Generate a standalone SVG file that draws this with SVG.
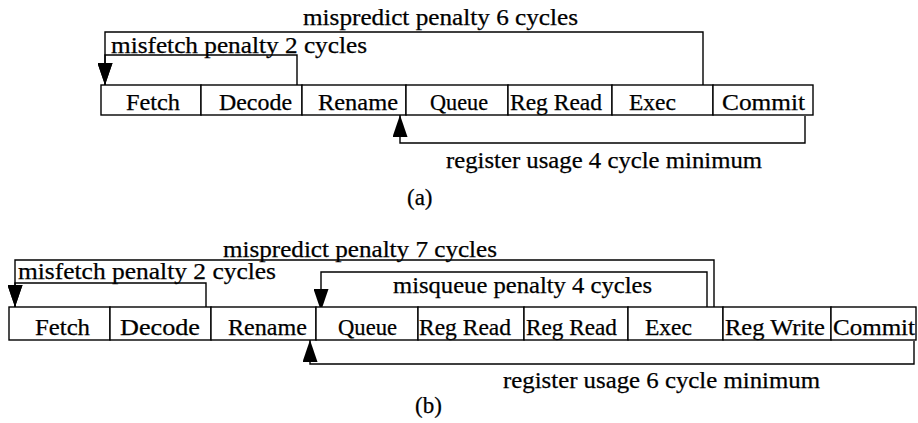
<svg xmlns="http://www.w3.org/2000/svg" width="918" height="423" viewBox="0 0 918 423">
<style>
text { font-family: "Liberation Serif", "Times New Roman", serif; font-size: 23px; fill: #000; stroke: #000; stroke-width: 0.25; }
.box { fill: #fff; stroke: #000; stroke-width: 1.4; }
.conn { fill: none; stroke: #000; stroke-width: 1.4; }
</style>
<defs>
<marker id="arr" viewBox="0 0 22 15" refX="22" refY="7.5" markerWidth="22" markerHeight="15" markerUnits="userSpaceOnUse" orient="auto">
<path d="M0,0 L22,7.5 L0,15 z" fill="#000"/>
</marker>
</defs>
<rect width="918" height="423" fill="#fff"/>

<g id="connectors">
<path class="conn" d="M703,85 V32 H105 V85" marker-end="url(#arr)"/>
<path class="conn" d="M297,85 V55 H105 V85" marker-end="url(#arr)"/>
<path class="conn" d="M805,116 V143 H400 V115" marker-end="url(#arr)"/>
<path class="conn" d="M714,308 V260 H15 V307" marker-end="url(#arr)"/>
<path class="conn" d="M206,307 V283 H15 V307" marker-end="url(#arr)"/>
<path class="conn" d="M707,308 V272 H321 V311" marker-end="url(#arr)"/>
<path class="conn" d="M914,341 V364 H310 V340" marker-end="url(#arr)"/>
</g>

<g id="labels">
<text x="303" y="25" textLength="275" lengthAdjust="spacingAndGlyphs">mispredict penalty 6 cycles</text>
<text x="111" y="53" textLength="256" lengthAdjust="spacingAndGlyphs">misfetch penalty 2 cycles</text>
<text x="446" y="168" textLength="316" lengthAdjust="spacingAndGlyphs">register usage 4 cycle minimum</text>
<text x="407" y="205">(a)</text>
<text x="223" y="257" textLength="274" lengthAdjust="spacingAndGlyphs">mispredict penalty 7 cycles</text>
<text x="18" y="279" textLength="258" lengthAdjust="spacingAndGlyphs">misfetch penalty 2 cycles</text>
<text x="393" y="293" textLength="259" lengthAdjust="spacingAndGlyphs">misqueue penalty 4 cycles</text>
<text x="503" y="388" textLength="317" lengthAdjust="spacingAndGlyphs">register usage 6 cycle minimum</text>
<text x="415" y="413">(b)</text>
</g>

<g id="a-fetch"><rect class="box" x="101" y="85" width="100" height="30"/><text x="126" y="110" textLength="54" lengthAdjust="spacingAndGlyphs">Fetch</text></g>
<g id="a-decode"><rect class="box" x="201" y="85" width="101" height="30"/><text x="219" y="110" textLength="73" lengthAdjust="spacingAndGlyphs">Decode</text></g>
<g id="a-rename"><rect class="box" x="302" y="85" width="104" height="30"/><text x="318" y="110" textLength="80" lengthAdjust="spacingAndGlyphs">Rename</text></g>
<g id="a-queue"><rect class="box" x="406" y="85" width="102" height="30"/><text x="430" y="110" textLength="58" lengthAdjust="spacingAndGlyphs">Queue</text></g>
<g id="a-regread"><rect class="box" x="508" y="85" width="104" height="30"/><text x="510" y="110" textLength="92" lengthAdjust="spacingAndGlyphs">Reg Read</text></g>
<g id="a-exec"><rect class="box" x="612" y="85" width="101" height="30"/><text x="629" y="110" textLength="47" lengthAdjust="spacingAndGlyphs">Exec</text></g>
<g id="a-commit"><rect class="box" x="713" y="85" width="100" height="30"/><text x="722" y="110" textLength="83" lengthAdjust="spacingAndGlyphs">Commit</text></g>

<g id="b-fetch"><rect class="box" x="9" y="307" width="101" height="33"/><text x="35" y="335" textLength="55" lengthAdjust="spacingAndGlyphs">Fetch</text></g>
<g id="b-decode"><rect class="box" x="110" y="307" width="101" height="33"/><text x="120" y="335" textLength="80" lengthAdjust="spacingAndGlyphs">Decode</text></g>
<g id="b-rename"><rect class="box" x="211" y="307" width="105" height="33"/><text x="228" y="335" textLength="79" lengthAdjust="spacingAndGlyphs">Rename</text></g>
<g id="b-queue"><rect class="box" x="316" y="307" width="102" height="33"/><text x="338" y="335" textLength="59" lengthAdjust="spacingAndGlyphs">Queue</text></g>
<g id="b-regread1"><rect class="box" x="418" y="307" width="106" height="33"/><text x="419" y="335" textLength="92" lengthAdjust="spacingAndGlyphs">Reg Read</text></g>
<g id="b-regread2"><rect class="box" x="524" y="307" width="104" height="33"/><text x="526" y="335" textLength="91" lengthAdjust="spacingAndGlyphs">Reg Read</text></g>
<g id="b-exec"><rect class="box" x="628" y="307" width="95" height="33"/><text x="645" y="335" textLength="47" lengthAdjust="spacingAndGlyphs">Exec</text></g>
<g id="b-regwrite"><rect class="box" x="723" y="307" width="108" height="33"/><text x="725" y="335" textLength="100" lengthAdjust="spacingAndGlyphs">Reg Write</text></g>
<g id="b-commit"><rect class="box" x="831" y="307" width="85" height="33"/><text x="833" y="335" textLength="82" lengthAdjust="spacingAndGlyphs">Commit</text></g>
</svg>
